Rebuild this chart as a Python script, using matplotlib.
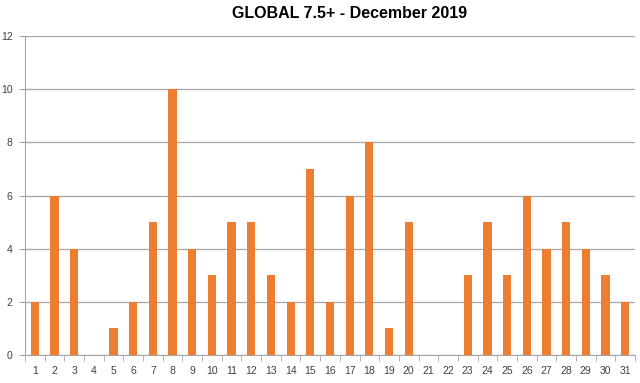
import numpy as np
import matplotlib
matplotlib.use("Agg")
import matplotlib.pyplot as plt

days = list(range(1, 32))
counts = [2, 6, 4, 0, 1, 2, 5, 10, 4, 3, 5, 5, 3, 2, 7, 2, 6, 8, 1, 5,
          0, 0, 3, 5, 3, 6, 4, 5, 4, 3, 2]
y_ticks = [0, 2, 4, 6, 8, 10, 12]

plt.rcParams['font.family'] = ['Liberation Sans', 'DejaVu Sans']

fig = plt.figure(figsize=(6.4, 3.83), dpi=100)
ax = fig.add_axes([25 / 640, 28 / 383, 610 / 640, 319 / 383])

x = np.arange(len(days))
ax.bar(x, counts, width=0.42, color='#ED7D31', zorder=3)

ax.set_xlim(-0.5, len(days) - 0.5)
ax.set_ylim(0, 12)
ax.set_yticks(y_ticks)
ax.set_xticks(x)
ax.set_xticklabels([str(d) for d in days])
ax.set_xticks(np.arange(-0.5, len(days)), minor=True)

ax.yaxis.grid(True, color='#A6A6A6', linewidth=0.9, zorder=0)
for s in ['top', 'right']:
    ax.spines[s].set_visible(False)
ax.spines['left'].set_color('#A6A6A6')
ax.spines['bottom'].set_color('#A6A6A6')

ax.tick_params(axis='x', which='major', length=0, labelsize=7.5, pad=8)
ax.tick_params(axis='x', which='minor', length=4, color='#A6A6A6')
ax.tick_params(axis='y', length=4, color='#A6A6A6', labelsize=7.5, pad=5)
for lab in ax.get_xticklabels() + ax.get_yticklabels():
    lab.set_color('#404040')

fig.text(350 / 640, 1 - 14 / 383, "GLOBAL 7.5+ - December 2019", ha='center', va='center',
         fontsize=11.5, fontweight='bold')

fig.savefig("out.png", dpi=100)
